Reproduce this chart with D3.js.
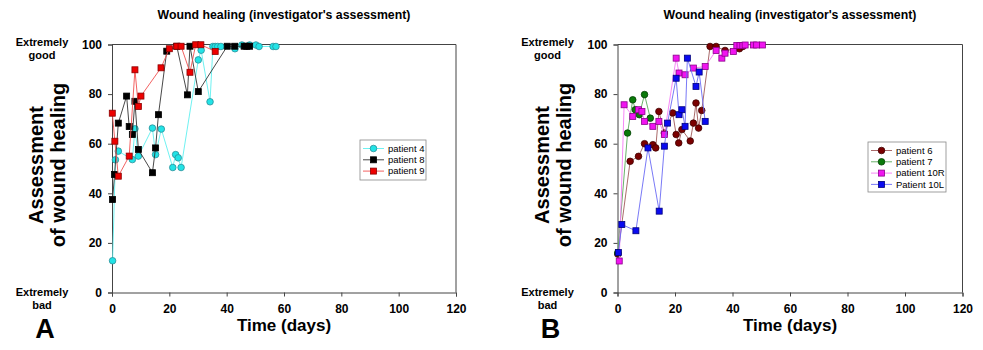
<!DOCTYPE html>
<html lang="en">
  <head>
    <meta charset="UTF-8" />
    <title>Wound healing</title>
    <style>
      body { margin: 0; background: #fff; }
      svg { font-family: "Liberation Sans", Arial, sans-serif; }
      .frame line, .domain, .tick line { stroke: #444; stroke-width: 1; }
      .tick text { font-size: 12px; font-weight: bold; fill: #000; }
      .series path { fill: none; stroke-width: 0.9; }
      .lbl { font-weight: bold; fill: #000; }
    </style>
  </head>
  <body>
    <div id="container"></div>
  </body>
  <script src="https://cdnjs.cloudflare.com/ajax/libs/d3/7.8.5/d3.min.js"></script>
  <script>
    // ticks
    const xTicks = [0, 20, 40, 60, 80, 100, 120];
    const yTicks = [0, 20, 40, 60, 80, 100];

    // panel A
    const p4Days = [0.2, 1.2, 2.2, 7.1, 8.0, 9.2, 14.1, 15.2, 17.2, 21.2, 22.2, 23.1, 24.1, 30.1, 31.1, 34.2, 35.2, 36.0, 36.9, 38.0, 42.9, 45.3, 48.0, 50.2, 51.3, 56.2, 57.2];
    const p4Vals = [12.8, 53.5, 57, 53.6, 66, 55, 66.3, 55.6, 65.9, 50.4, 55.6, 54.3, 50.4, 93.8, 97.7, 76.9, 99.2, 99.2, 99.2, 99.2, 98.3, 99.8, 99.8, 99.8, 99.2, 99.2, 99.2];
    const p8Days = [0.2, 0.9, 2.2, 5.1, 6.0, 7.1, 8.0, 9.2, 14.1, 15.2, 16.2, 19.1, 22.6, 26.3, 27.2, 30.1, 40.2, 42.8, 46.1, 47.0, 48.0];
    const p8Vals = [37.5, 47.6, 68.3, 79.2, 66.9, 63.7, 77.1, 57.7, 48.3, 58.3, 71.7, 97.3, 99.3, 79.7, 99.3, 81, 99.3, 99.3, 99.3, 99.3, 99.3];
    const p9Days = [0.1, 1.0, 2.2, 6.0, 8.0, 9.2, 10.1, 17.1, 20.0, 22.6, 24.1, 27.2, 29.2, 31.0, 36.0];
    const p9Vals = [72.3, 61, 46.9, 55, 89.8, 75, 79.2, 90.6, 98.3, 99.3, 99.3, 88.8, 99.9, 99.9, 97.2];

    // panel B
    const p6Days = [0.1, 4.4, 7.3, 9.4, 12.3, 13.3, 14.4, 16.3, 19.2, 20.4, 21.3, 22.4, 25.3, 26.4, 27.3, 28.2, 29.3, 32.2, 34.3, 37.4, 42.4, 43.6];
    const p6Vals = [15.5, 52.9, 54.9, 60, 59.6, 58.3, 73, 64.3, 72.4, 63.7, 60.3, 65.7, 61.1, 68.3, 76.4, 66.3, 73.4, 99.2, 99.2, 97.6, 98.3, 99.2];
    const p7Days = [0.1, 3.5, 5.3, 6.2, 7.6, 9.4, 11.4];
    const p7Vals = [16, 64.3, 77.7, 73.7, 71.7, 79.8, 70.3];
    const p10RDays = [0.6, 2.3, 5.3, 7.3, 8.5, 9.4, 12.3, 14.4, 16.3, 20.4, 21.4, 23.5, 26.4, 30.5, 34.3, 36.3, 37.4, 40.3, 41.5, 42.6, 43.6, 44.4, 47.3, 48.4, 50.4];
    const p10RVals = [12.7, 75.7, 71, 73.7, 73, 69, 67, 69, 63.7, 94.5, 88.5, 87.8, 90.5, 91.1, 97.6, 94.5, 96.5, 97.2, 99.6, 99.6, 99.6, 99.8, 99.8, 99.8, 99.8];
    const p10LDays = [0.3, 1.5, 6.4, 10.6, 14.5, 16.3, 17.4, 20.4, 21.4, 22.4, 23.5, 24.3, 27.3, 28.4, 30.5];
    const p10LVals = [16.1, 27.4, 24.9, 58.3, 32.8, 59, 68.3, 86.4, 71.7, 73.7, 67, 94.5, 83.1, 88.9, 69];

    const title = "Wound healing (investigator's assessment)";

    const panels = [
      {
        left: 112, right: 456, letter: "A",
        legend: { x: 360, y: 140, w: 66, h: 40 },
        series: [
          { name: "patient 4", days: p4Days, vals: p4Vals, shape: "circle", fill: "#22e3e6", stroke: "#2a8f99", line: "#5fefef" },
          { name: "patient 8", days: p8Days, vals: p8Vals, shape: "square", fill: "#000", stroke: "#000", line: "#333" },
          { name: "patient 9", days: p9Days, vals: p9Vals, shape: "square", fill: "#ee0000", stroke: "#8a0000", line: "#f05050" }
        ]
      },
      {
        left: 617.5, right: 962.5, letter: "B",
        legend: { x: 868, y: 142, w: 78, h: 50 },
        series: [
          { name: "patient 6", days: p6Days, vals: p6Vals, shape: "circle", fill: "#7a0000", stroke: "#400000", line: "#a05a5a" },
          { name: "patient 7", days: p7Days, vals: p7Vals, shape: "circle", fill: "#0a7a0a", stroke: "#034003", line: "#5aa95a" },
          { name: "patient 10R", days: p10RDays, vals: p10RVals, shape: "square", fill: "#f014f0", stroke: "#8a008a", line: "#f57af5" },
          { name: "Patient 10L", days: p10LDays, vals: p10LVals, shape: "square", fill: "#0a0af0", stroke: "#00007a", line: "#6a6af5" }
        ]
      }
    ];

    const width = 983, height = 350, plotTop = 44.5, plotBottom = 292.5;

    const svg = d3.select("#container").append("svg")
      .attr("width", width).attr("height", height);

    function marker(sel, s, cx, cy) {
      if (s.shape === "circle") {
        sel.append("circle").attr("cx", cx).attr("cy", cy).attr("r", 3.3)
          .attr("fill", s.fill).attr("stroke", s.stroke).attr("stroke-width", 0.8);
      } else {
        sel.append("rect").attr("x", cx - 3).attr("y", cy - 3).attr("width", 6).attr("height", 6)
          .attr("fill", s.fill).attr("stroke", s.stroke).attr("stroke-width", 0.8);
      }
    }

    panels.forEach((p) => {
      const x = d3.scaleLinear().domain([0, 120]).range([p.left, p.right]);
      const y = d3.scaleLinear().domain([0, 100]).range([plotBottom, plotTop]);
      const g = svg.append("g");

      // frame top/right
      const fr = g.append("g").attr("class", "frame");
      fr.append("line").attr("x1", p.left).attr("x2", p.right).attr("y1", plotTop).attr("y2", plotTop);
      fr.append("line").attr("x1", p.right).attr("x2", p.right).attr("y1", plotTop).attr("y2", plotBottom);

      g.append("g").attr("transform", `translate(0,${plotBottom})`)
        .call(d3.axisBottom(x).tickValues(xTicks).tickSizeOuter(0).tickSize(4).tickPadding(8));
      g.append("g").attr("transform", `translate(${p.left},0)`)
        .call(d3.axisLeft(y).tickValues(yTicks).tickSizeOuter(0).tickSize(4).tickPadding(6));

      const mid = (p.left + p.right) / 2;
      g.append("text").attr("class", "lbl").attr("x", mid).attr("y", 18.5)
        .attr("text-anchor", "middle").attr("font-size", 12.3).text(title);
      g.append("text").attr("class", "lbl").attr("x", mid).attr("y", 331)
        .attr("text-anchor", "middle").attr("font-size", 17).text("Time (days)");
      g.append("text").attr("class", "lbl").attr("x", p.left - 67).attr("y", 338)
        .attr("text-anchor", "middle").attr("font-size", 27).text(p.letter);

      const yl = g.append("text").attr("class", "lbl").attr("font-size", 20)
        .attr("text-anchor", "middle")
        .attr("transform", `translate(${p.left - 69},165) rotate(-90)`);
      yl.append("tspan").attr("x", 0).attr("dy", 0).text("Assessment");
      yl.append("tspan").attr("x", 0).attr("dy", 22).text("of wound healing");

      [["Extremely", "good", 46], ["Extremely", "bad", 296]].forEach(([a, b, yy]) => {
        const t = g.append("text").attr("class", "lbl").attr("font-size", 11)
          .attr("text-anchor", "middle");
        t.append("tspan").attr("x", p.left - 70).attr("y", yy).text(a);
        t.append("tspan").attr("x", p.left - 70).attr("y", yy + 13).text(b);
      });

      // series
      p.series.forEach((s) => {
        const pts = s.days.map((d, i) => [d, s.vals[i]]);
        const sg = g.append("g").attr("class", "series");
        sg.append("path").attr("stroke", s.line)
          .attr("d", d3.line().x((d) => x(d[0])).y((d) => y(d[1]))(pts));
        pts.forEach((d) => marker(sg, s, x(d[0]), y(d[1])));
      });

      // legend
      const L = p.legend;
      const lg = g.append("g");
      lg.append("rect").attr("x", L.x).attr("y", L.y).attr("width", L.w).attr("height", L.h)
        .attr("fill", "#fff").attr("stroke", "#888").attr("stroke-width", 0.8);
      p.series.forEach((s, i) => {
        const cy = L.y + 8.5 + i * 11.3;
        lg.append("line").attr("x1", L.x + 3).attr("x2", L.x + 24).attr("y1", cy).attr("y2", cy)
          .attr("stroke", s.line).attr("stroke-width", 0.9);
        marker(lg, s, L.x + 13.5, cy);
        lg.append("text").attr("x", L.x + 28).attr("y", cy + 3.3)
          .attr("font-size", 9.5).attr("fill", "#000").text(s.name);
      });
    });
  </script>
</html>
